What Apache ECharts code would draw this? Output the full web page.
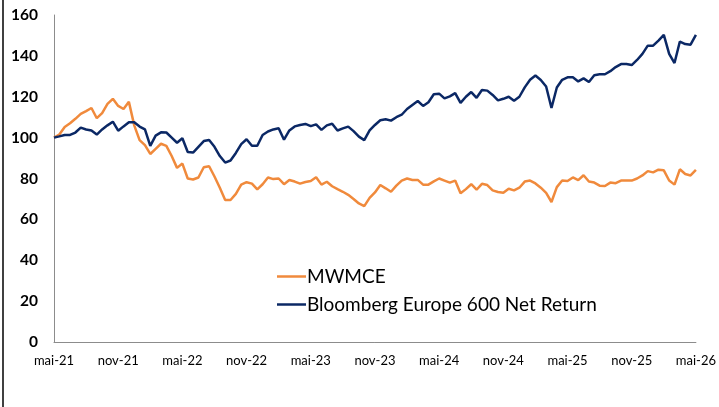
<!DOCTYPE html>
<html>
<head>
<meta charset="utf-8">
<script src="https://cdn.jsdelivr.net/npm/echarts@6/dist/echarts.min.js"></script>
<style>
  html, body { margin: 0; padding: 0; background: #fff; }
  #chart { width: 719px; height: 407px; }
</style>
</head>
<body>
<div id="chart"></div>
<script>
// x labels, one every 6 months (mai-21 .. mai-26)
var tickLabels = ['mai-21', 'nov-21', 'mai-22', 'nov-22', 'mai-23', 'nov-23', 'mai-24', 'nov-24', 'mai-25', 'nov-25', 'mai-26'];
// one value every half month, base 100 in mai-21
var step = 0.5;
var mwmce = [
    100, 101.5, 105.2, 107, 109.2, 111.6, 113, 114.5, 109.5, 112,
    116.5, 119, 115.5, 114, 117.5, 106, 98.8, 96.3, 92, 94.5,
    97, 96, 91, 85.2, 87.3, 80, 79.5, 80.5, 85.5, 86,
    81, 75.5, 69.5, 69.5, 72.5, 77, 78.2, 77.5, 74.7, 77.2,
    80.5, 79.7, 80, 77.2, 79.3, 78.5, 77.5, 78.3, 78.8, 80.6,
    77, 78.4, 76.2, 74.8, 73.5, 72, 70, 67.8, 66.5, 70.5,
    73.2, 76.8, 75.2, 73.5, 76.5, 79, 80, 79.3, 79.3, 77,
    77, 78.6, 80, 79, 78, 79, 72.8, 74.8, 77.2, 74.5,
    77.4, 76.8, 74.2, 73.4, 73, 75, 74.2, 75.5, 78.5, 79,
    77.6, 75.5, 73, 68.5, 75.8, 79, 78.8, 80.5, 79.2, 81.6,
    78.5, 78, 76.5, 76.3, 78, 77.7, 79, 79, 79, 80,
    81.5, 83.6, 83, 84.3, 84, 79, 77, 84.5, 82.2, 81.5,
    84.2
];
var bloomberg = [
    100, 100.6, 101.3, 101.3, 102.5, 104.9, 104, 103.5, 101.5, 104,
    106, 107.8, 103.4, 105.5, 107.5, 107.5, 105.4, 104, 96, 101,
    102.6, 102.5, 100, 97.5, 99.7, 93, 92.7, 95.5, 98.3, 98.8,
    95.5, 91, 87.8, 88.8, 92.5, 96.8, 99.2, 96, 96, 101.3,
    103, 104, 104.6, 99, 103.5, 105.5, 106.2, 106.7, 105.6, 106.5,
    103.8, 106, 106.8, 103.5, 104.5, 105.4, 103.2, 100.5, 98.8, 103.5,
    106.2, 108.5, 109, 108.3, 110, 111.2, 114, 116, 117.9, 115.5,
    117.3, 121.2, 121.5, 119.2, 120.2, 121.8, 117, 120, 122.3, 119.5,
    123.3, 123, 120.9, 118.2, 119, 120, 118, 120, 124.6, 128.3,
    130.4, 128.2, 125, 114.5, 124.5, 128.3, 129.5, 129.5, 127.5, 129,
    127.2, 130.5, 131, 131, 132.5, 134.5, 136, 136, 135.5, 138,
    141, 145, 145, 147.5, 150.3, 141, 136.5, 147, 145.8, 145.5,
    150.3
];

function toPoints(arr) {
    return arr.map(function (v, i) { return [i * step, v]; });
}

var chart = echarts.init(document.getElementById('chart'));
chart.setOption({
    animation: false,
    textStyle: { fontFamily: 'Lato, "Liberation Sans", sans-serif' },
    grid: { left: 54, right: 19, top: 15, bottom: 65 },
    legend: {
        orient: 'vertical',
        left: 272,
        top: 262,
        icon: 'rect',
        itemWidth: 29,
        itemHeight: 2.5,
        itemGap: 9,
        textStyle: { fontSize: 19, color: '#000', padding: [0, 0, 0, -4] },
        data: ['MWMCE', 'Bloomberg Europe 600 Net Return']
    },
    xAxis: {
        type: 'value',
        min: 0,
        max: 60,
        interval: 6,
        axisLine: { lineStyle: { color: '#8c8c8c', width: 1 } },
        axisTick: { show: false },
        splitLine: { show: false },
        axisLabel: {
            color: '#000',
            fontSize: 13,
            margin: 12,
            formatter: function (v) { return tickLabels[Math.round(v / 6)]; }
        }
    },
    yAxis: {
        type: 'value',
        min: 0,
        max: 160,
        interval: 20,
        axisLine: { show: true, lineStyle: { color: '#8c8c8c', width: 1 } },
        axisTick: { show: false },
        splitLine: { show: false },
        axisLabel: { color: '#000', fontSize: 15.5, fontWeight: 'bold', margin: 16 }
    },
    graphic: [{
        type: 'line',
        shape: { x1: 3, y1: 0, x2: 3, y2: 407 },
        style: { stroke: '#000', lineWidth: 1.5 }
    }],
    series: [
        {
            name: 'MWMCE',
            type: 'line',
            symbol: 'none',
            data: toPoints(mwmce),
            lineStyle: { color: '#F08A3C', width: 2.5 },
            itemStyle: { color: '#F08A3C' }
        },
        {
            name: 'Bloomberg Europe 600 Net Return',
            type: 'line',
            symbol: 'none',
            data: toPoints(bloomberg),
            lineStyle: { color: '#0B2865', width: 2.5 },
            itemStyle: { color: '#0B2865' }
        }
    ]
});
</script>
</body>
</html>
